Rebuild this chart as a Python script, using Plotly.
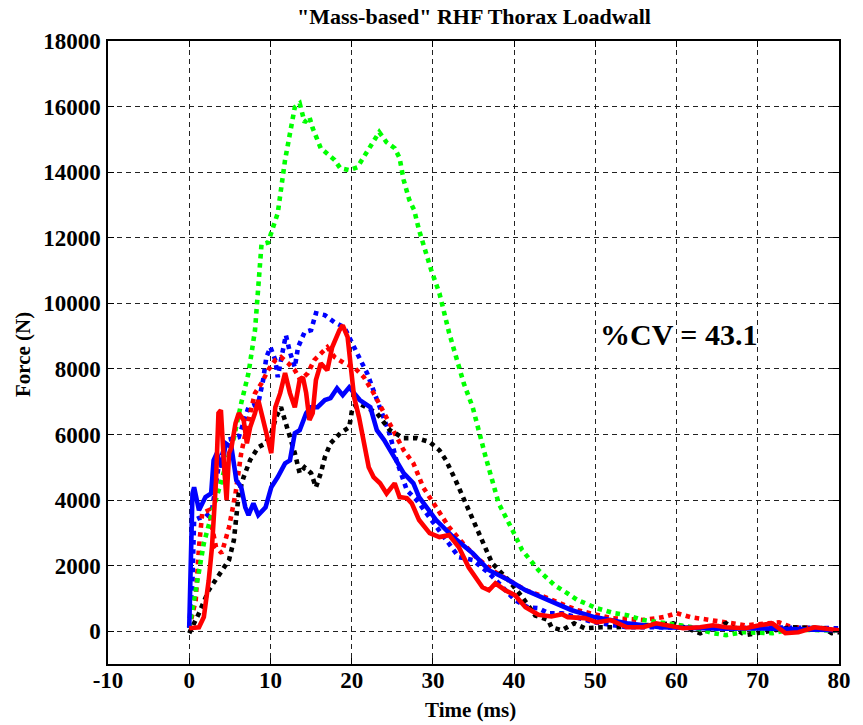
import plotly.graph_objects as go

# ---------------- data (time in ms, force in N) ----------------
green_dot_t = [0, 1.0, 1.8, 2.8, 4.0, 5.5, 6.4, 7.3, 8.1, 8.5, 8.9, 9.7, 10.1, 10.9, 11.8, 12.5, 13.0, 13.6,
               14.2, 14.8, 15.2, 16.2, 17.9, 18.6, 19.7, 20.7, 22.1, 23.4, 24.3, 25.3, 25.9, 26.4, 27.1, 27.7,
               28.3, 29.0, 29.8, 30.8, 32.0, 33.8, 34.9, 36.5, 38.1, 39.8, 41.0, 43.0, 45.0, 46.6, 47.8, 50.2,
               52.3, 53.9, 55.9, 58.8, 62.0, 64.5, 66.1, 68.1, 70.2, 71.8, 74.0, 77.0, 80.0]
green_dot_f = [100, 1500, 2680, 3600, 4600, 5900, 6950, 7870, 9180, 10300, 11800, 11850, 12150, 12750, 14370,
               15370, 15980, 16100, 15520, 15680, 15340, 14730, 14370, 14120, 14060, 14150, 14730, 15220, 14910,
               14730, 14430, 13760, 13150, 12840, 12230, 11620, 11010, 10310, 9100, 7560, 6830, 5310, 3900, 3080,
               2470, 1860, 1400, 1150, 950, 700, 550, 490, 340, 240, 120, -60, -120, -30, -30, -60, 50, 30, 20]

blue_dot_t = [0, 0.4, 0.6, 1.2, 2.0, 2.8, 3.6, 4.6, 6.1, 7.3, 8.5, 9.1, 9.5, 10.0, 10.6, 10.9, 11.3, 11.9, 12.4,
              13.0, 13.4, 14.2, 15.0, 15.6, 16.7, 17.9, 19.1, 19.8, 20.9, 21.9, 22.7, 23.5, 24.7, 25.5, 26.8,
              28.0, 30.4, 31.6, 33.2, 34.9, 36.9, 38.6, 40.1, 41.7, 43.0, 44.2, 45.9, 49.9, 53.9, 58.0, 62.0,
              66.0, 70.0, 75.0, 80.0]
blue_dot_f = [120, 1550, 3380, 3450, 3480, 3690, 5000, 5830, 5920, 6830, 6950, 7660, 8360, 8660, 8270, 7750, 8270,
              9030, 8510, 8050, 8660, 9120, 9180, 9700, 9640, 9420, 9270, 8940, 8360, 7870, 7350, 6740, 6000,
              5220, 4300, 4000, 3170, 2780, 2260, 2170, 1770, 1340, 950, 730, 700, 550, 550, 270, 120, 120, 100,
              80, 120, 100, 90]

blue_sol_t = [0, 0.4, 0.6, 1.2, 2.0, 2.7, 3.0, 3.4, 4.0, 4.5, 5.2, 5.8, 6.4, 6.9, 7.3, 7.9, 8.5, 9.4, 10.1, 10.9,
              11.8, 12.4, 13.0, 13.6, 14.4, 15.0, 15.8, 16.7, 17.4, 18.2, 18.9, 19.7, 20.3, 21.0, 22.3, 23.1,
              24.0, 24.7, 25.5, 26.4, 27.6, 28.3, 30.4, 32.5, 34.9, 36.9, 39.3, 41.4, 44.2, 47.1, 49.9, 53.9,
              58.0, 62.0, 66.0, 70.2, 75.0, 80.0]
blue_sol_f = [100, 4200, 4390, 3690, 4090, 4200, 5210, 5430, 5000, 5730, 5610, 4600, 4390, 3780, 3540, 3900, 3540,
              3780, 4390, 4700, 5120, 5210, 6040, 6130, 6650, 6830, 6830, 7050, 7110, 7410, 7200, 7440, 7260,
              7050, 6830, 6130, 5830, 5520, 5220, 4820, 4510, 4090, 3390, 2870, 2380, 1860, 1560, 1250, 950, 640,
              430, 240, 120, 90, 80, 90, 60, 30]

red_sol_t = [0, 1.2, 1.8, 2.4, 2.8, 3.3, 3.6, 3.9, 4.3, 4.6, 4.9, 5.2, 5.7, 6.1, 6.7, 7.1, 7.5, 8.1, 8.5, 9.1, 9.7,
             10.1, 10.6, 11.2, 11.8, 12.4, 13.0, 13.6, 14.0, 14.4, 14.8, 15.2, 15.6, 16.2, 17.0, 17.6, 18.5, 18.9,
             19.5, 19.8, 20.3, 20.9, 21.5, 22.1, 22.7, 23.5, 24.3, 25.3, 25.9, 26.8, 27.4, 28.3, 29.6, 30.8, 32.0,
             33.2, 34.4, 36.1, 36.9, 37.7, 38.9, 40.1, 41.4, 43.0, 44.6, 45.9, 46.6, 48.7, 50.2, 51.9, 53.9, 55.9,
             57.5, 59.2, 60.8, 62.9, 64.5, 66.1, 68.5, 70.2, 71.8, 73.4, 75.0, 77.0, 80.0]
red_sol_f = [90, 120, 430, 1550, 2560, 4600, 6650, 6740, 5000, 4000, 5430, 5610, 6340, 6650, 6440, 5730, 6220, 6650,
             7050, 6440, 5730, 5430, 6830, 7260, 7870, 7260, 6830, 7660, 7750, 7260, 6440, 6650, 7660, 8170, 7960,
             8660, 9180, 9330, 8970, 8170, 7140, 6530, 5730, 5000, 4700, 4510, 4200, 4510, 4090, 4060, 3900, 3390,
             2990, 2870, 2930, 2560, 1950, 1340, 1250, 1460, 1250, 1100, 730, 500, 450, 520, 430, 400, 270, 340,
             120, 120, 240, 180, 90, 120, 180, 120, 90, 180, 240, -60, -30, 120, 30]

red_dot_t = [0, 0.8, 1.2, 1.6, 2.4, 2.8, 3.3, 4.0, 4.9, 5.7, 6.4, 7.3, 8.1, 8.9, 9.7, 10.6, 11.3, 12.2, 13.0, 13.7,
             14.6, 15.4, 16.2, 17.0, 17.9, 19.1, 20.3, 21.5, 22.7, 24.0, 25.2, 26.4, 27.6, 28.8, 30.4, 32.0, 33.7,
             35.3, 37.3, 39.3, 41.4, 43.8, 47.8, 51.9, 55.9, 58.4, 60.0, 61.7, 64.1, 66.1, 68.5, 72.6, 74.2, 78.2,
             80.0]
red_dot_f = [100, 950, 2560, 3600, 3690, 3170, 2560, 2380, 3170, 4200, 5430, 6440, 7260, 7560, 7960, 8270, 8360,
             8170, 7960, 7660, 7870, 8270, 8480, 8660, 8360, 8170, 8050, 7750, 7260, 6650, 6040, 5520, 5120, 4390,
             3780, 3170, 2680, 2260, 1860, 1560, 1250, 1040, 640, 400, 340, 430, 550, 430, 340, 270, 180, 270, 120,
             90, -30]

black_dot_t = [0, 1.2, 2.4, 3.3, 4.0, 4.9, 5.5, 5.8, 6.1, 6.7, 7.5, 8.5, 9.4, 10.1, 10.7, 11.3, 11.8, 12.4, 13.0,
               13.6, 14.2, 15.0, 15.6, 16.2, 16.7, 17.4, 18.6, 19.7, 20.1, 20.9, 21.9, 23.1, 24.7, 26.4, 28.0,
               29.6, 30.8, 31.6, 32.8, 33.7, 34.9, 36.1, 37.3, 39.3, 41.0, 42.6, 44.2, 44.6, 45.9, 47.4, 48.7,
               50.7, 52.7, 55.9, 59.6, 62.9, 66.1, 68.5, 70.9, 74.2, 78.2, 79.1, 80.0]
black_dot_f = [-60, 550, 1250, 1560, 1860, 2170, 2780, 3690, 4200, 4700, 5220, 5610, 5730, 6040, 6530, 6830, 6440,
               5920, 5430, 4820, 5000, 4820, 4390, 4820, 5310, 5730, 6040, 6220, 6830, 6950, 6830, 6650, 6130,
               5890, 5890, 5770, 5520, 5220, 4600, 4090, 3390, 2680, 2070, 1560, 1040, 480, 340, 120, 30, 240, 90,
               120, 120, 180, 240, -60, 240, -120, -30, 120, 90, -60, -30]

x_ticks = list(range(-10, 81, 10))
y_ticks = list(range(0, 18001, 2000))

title_text = '"Mass-based" RHF Thorax Loadwall'
x_label = "Time (ms)"
y_label = "Force (N)"
cv_text = "%CV = 43.1"

FONT = "Liberation Serif"

fig = go.Figure()
series = [
    (blue_dot_t, blue_dot_f, "#0000FF", "dot"),
    (red_dot_t, red_dot_f, "#FF0000", "dot"),
    (black_dot_t, black_dot_f, "#000000", "dot"),
    (green_dot_t, green_dot_f, "#00FF00", "dot"),
    (blue_sol_t, blue_sol_f, "#0000FF", "solid"),
    (red_sol_t, red_sol_f, "#FF0000", "solid"),
]
for t, f, c, d in series:
    fig.add_trace(go.Scatter(x=t, y=f, mode="lines",
                             line=dict(color=c, width=4.6, dash=d),
                             showlegend=False, hoverinfo="skip"))

axis_common = dict(
    showline=True, linecolor="black", linewidth=1.5, mirror="ticks",
    ticks="inside", ticklen=6, tickcolor="black", tickwidth=1,
    showgrid=True, gridcolor="#222222", gridwidth=1, griddash="5px,4px",
    zeroline=False,
    tickfont=dict(family=FONT, size=23, color="black", weight="bold"),
)

fig.update_layout(
    width=863, height=725,
    margin=dict(l=108, r=15, t=41, b=61),
    paper_bgcolor="white", plot_bgcolor="white",
    xaxis=dict(range=[-10, 80], tickvals=x_ticks, ticktext=[str(v) for v in x_ticks],
               ticklabelstandoff=-5, **axis_common),
    yaxis=dict(range=[-1000, 18000], tickvals=y_ticks, ticktext=[str(v) for v in y_ticks],
               ticklabelstandoff=1, **axis_common),
    annotations=[
        dict(text=title_text, xref="paper", yref="paper", x=0.5, y=1.040, xanchor="center", yanchor="middle",
             showarrow=False, font=dict(family=FONT, size=22, color="black", weight="bold")),
        dict(text=x_label, xref="paper", yref="paper", x=0.496, y=-0.0735, xanchor="center", yanchor="middle",
             showarrow=False, font=dict(family=FONT, size=21, color="black", weight="bold")),
        dict(text=y_label, xref="paper", yref="paper", x=-0.1162, y=0.496, xanchor="center", yanchor="middle",
             textangle=-90, showarrow=False, font=dict(family=FONT, size=21, color="black", weight="bold")),
        dict(text=cv_text, xref="x", yref="y", x=60.2, y=9060, xanchor="center", yanchor="middle",
             showarrow=False, font=dict(family=FONT, size=30, color="black", weight="bold")),
    ],
)

fig.write_html("out.html")
